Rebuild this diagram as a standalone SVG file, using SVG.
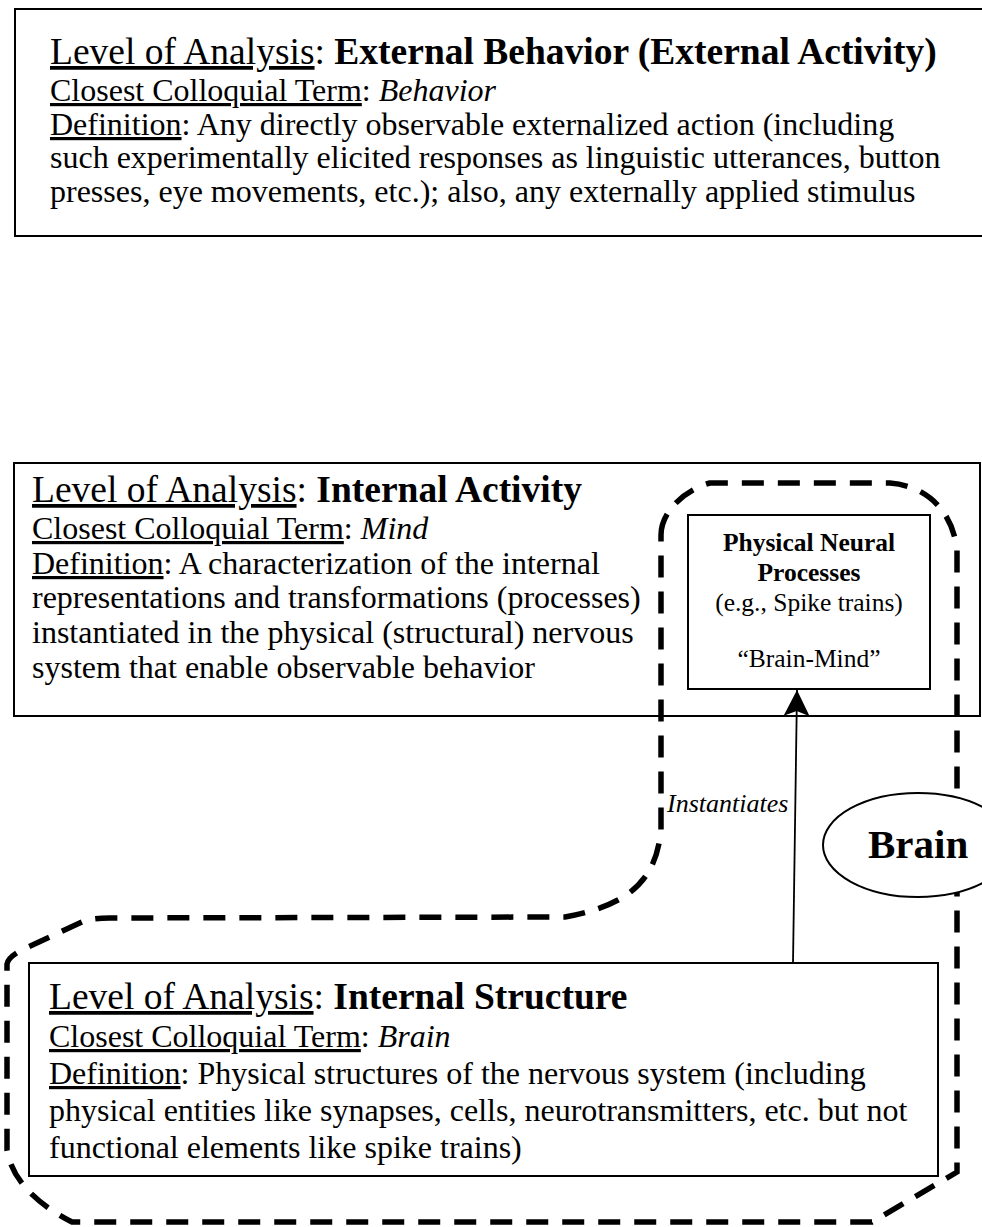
<svg xmlns="http://www.w3.org/2000/svg" width="982" height="1227" viewBox="0 0 982 1227">
  <defs>
    <style>
      text { font-family: "Liberation Serif", "Times New Roman", serif; fill: #000; }
      .title { font-size: 37.5px; }
      .body { font-size: 32px; }
      .u { text-decoration: underline; }
      .b { font-weight: bold; }
      .i { font-style: italic; }
      .box { fill: #fff; stroke: #000; stroke-width: 2; }
      .small { font-size: 25.5px; }
      .dash { fill: none; stroke: #000; stroke-width: 5.5; stroke-dasharray: 22 14; }
      .link { fill: none; stroke: #000; stroke-width: 1.8; }
    </style>
    <!-- filled arrowhead with a slightly notched back, tip at the line end -->
    <marker id="arrowhead" viewBox="0 0 28 28" refX="27" refY="14" markerWidth="28" markerHeight="28" markerUnits="userSpaceOnUse" orient="auto">
      <path d="M27,14 L1,1 L6,14 L1,27 Z" fill="#000"/>
    </marker>
  </defs>

  <rect width="982" height="1227" fill="#fff"/>

  <!-- Level: external behaviour -->
  <g id="external-behavior">
    <rect class="box" x="15" y="9" width="1000" height="227"/>
    <text class="title" x="50" y="64"><tspan class="u">Level of Analysis</tspan>: <tspan class="b">External Behavior (External Activity)</tspan></text>
    <text class="body" x="50" y="101"><tspan class="u">Closest Colloquial Term</tspan>: <tspan class="i">Behavior</tspan></text>
    <text class="body" x="50" y="135"><tspan class="u">Definition</tspan>: Any directly observable externalized action (including</text>
    <text class="body" x="50" y="168">such experimentally elicited responses as linguistic utterances, button</text>
    <text class="body" x="50" y="202">presses, eye movements, etc.); also, any externally applied stimulus</text>
  </g>

  <!-- Level: internal activity -->
  <g id="internal-activity">
    <rect class="box" x="14" y="463" width="966" height="253"/>
    <text class="title" x="32" y="502"><tspan class="u">Level of Analysis</tspan>: <tspan class="b">Internal Activity</tspan></text>
    <text class="body" x="32" y="539"><tspan class="u">Closest Colloquial Term</tspan>: <tspan class="i">Mind</tspan></text>
    <text class="body" x="32" y="574"><tspan class="u">Definition</tspan>: A characterization of the internal</text>
    <text class="body" x="32" y="608">representations and transformations (processes)</text>
    <text class="body" x="32" y="643">instantiated in the physical (structural) nervous</text>
    <text class="body" x="32" y="678">system that enable observable behavior</text>
  </g>

  <!-- Level: internal structure -->
  <g id="internal-structure">
    <rect class="box" x="29" y="963" width="909" height="213"/>
    <text class="title" x="49" y="1009"><tspan class="u">Level of Analysis</tspan>: <tspan class="b">Internal Structure</tspan></text>
    <text class="body" x="49" y="1047"><tspan class="u">Closest Colloquial Term</tspan>: <tspan class="i">Brain</tspan></text>
    <text class="body" x="49" y="1084"><tspan class="u">Definition</tspan>: Physical structures of the nervous system (including</text>
    <text class="body" x="49" y="1121">physical entities like synapses, cells, neurotransmitters, etc. but not</text>
    <text class="body" x="49" y="1158">functional elements like spike trains)</text>
  </g>

  <!-- Brain boundary (dashed outline) -->
  <g id="brain-boundary">
    <path class="dash" d="M661,535 C661,512 684,490 710,483 L890,483 C920,485 952,505 957,550 L957,1172 L872,1222 L72,1222 Q14,1192 7,1150 L7,964 Q8,956 28,947 L82,922 Q90,918 110,918 L565,917 C630,905 656,880 661,830 Z"/>
  </g>

  <!-- Physical neural processes -->
  <g id="neural-processes">
    <rect class="box" x="688" y="515" width="242" height="174"/>
    <text class="small b" x="809" y="551" text-anchor="middle">Physical Neural</text>
    <text class="small b" x="809" y="581" text-anchor="middle">Processes</text>
    <text class="small" x="809" y="611" text-anchor="middle">(e.g., Spike trains)</text>
    <text class="small" x="809" y="667" text-anchor="middle">“Brain-Mind”</text>
  </g>

  <!-- Brain label -->
  <g id="brain">
    <ellipse cx="918" cy="845" rx="95" ry="52" fill="#fff" stroke="#000" stroke-width="2"/>
    <text x="868" y="858" font-size="41" font-weight="bold">Brain</text>
  </g>

  <!-- Connectors -->
  <g id="connectors">
    <line class="link" x1="793" y1="963" x2="797" y2="690" marker-end="url(#arrowhead)"/>
    <text x="667" y="812" font-size="26" font-style="italic">Instantiates</text>
  </g>
</svg>
